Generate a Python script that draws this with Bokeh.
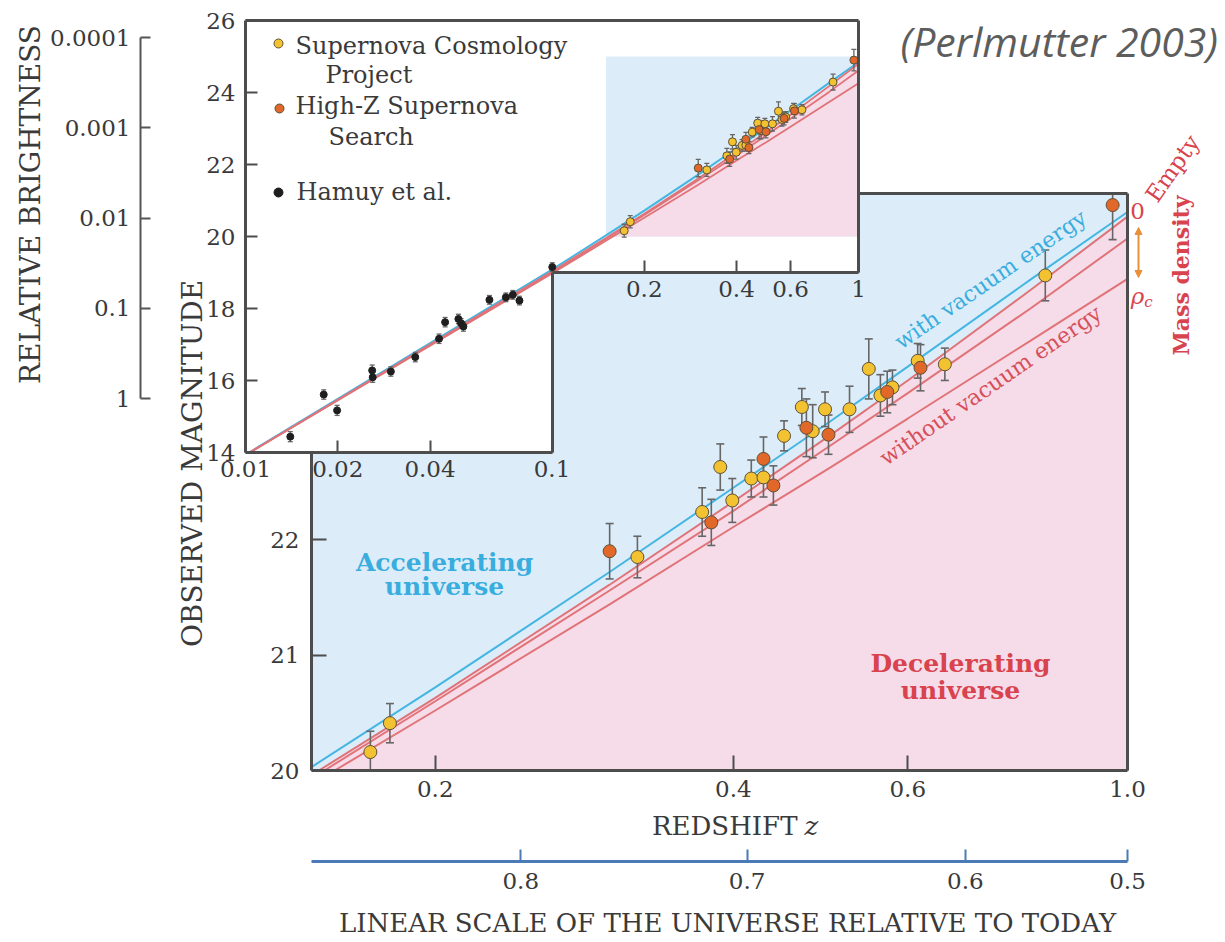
import numpy as np
from math import log10, radians
from bokeh.plotting import figure
from bokeh.models import (Range1d, LogScale, LinearScale, LinearAxis, LogAxis,
                          FixedTicker, Label, Arrow, NormalHead)
from bokeh.embed import file_html
from bokeh.resources import INLINE

# ------------------------------------------------------------------ data
# model curves: observed magnitude vs redshift
curve_z = [0.01, 0.1, 0.15, 0.2, 0.3, 0.4, 0.5, 0.6, 0.8, 1.0]
m_vacuum = [13.94, 19.08, 20.03, 20.72, 21.72, 22.45, 23.02, 23.50, 24.26, 24.84]
m_empty = [13.93, 19.03, 19.96, 20.63, 21.61, 22.33, 22.90, 23.38, 24.17, 24.80]
m_open = [13.93, 19.01, 19.93, 20.60, 21.56, 22.25, 22.81, 23.27, 24.01, 24.61]
m_crit = [13.93, 18.97, 19.88, 20.52, 21.44, 22.11, 22.62, 23.05, 23.73, 24.26]

# Supernova Cosmology Project
scp_z = [0.172, 0.180, 0.320, 0.372, 0.388, 0.399, 0.417, 0.429, 0.450, 0.469,
         0.481, 0.495, 0.524, 0.548, 0.563, 0.579, 0.614, 0.654, 0.826]
scp_m = [20.16, 20.41, 21.85, 22.24, 22.63, 22.34, 22.53, 22.54, 22.90, 23.15,
         22.94, 23.13, 23.13, 23.48, 23.25, 23.32, 23.55, 23.52, 24.29]
scp_err = [0.18, 0.17, 0.18, 0.21, 0.20, 0.19, 0.16, 0.17, 0.13, 0.16,
           0.23, 0.15, 0.20, 0.26, 0.18, 0.15, 0.15, 0.14, 0.22]

# High-Z Supernova Search
hz_z = [0.300, 0.380, 0.429, 0.439, 0.474, 0.499, 0.572, 0.618, 0.966]
hz_m = [21.90, 22.15, 22.70, 22.47, 22.97, 22.91, 23.28, 23.49, 24.90]
hz_err = [0.24, 0.20, 0.19, 0.17, 0.25, 0.17, 0.18, 0.20, 0.30]

# Hamuy et al. (nearby supernovae)
hamuy_z = [0.0140, 0.0180, 0.0199, 0.0259, 0.0260, 0.0298, 0.0358, 0.0428, 0.0448,
           0.0495, 0.0505, 0.0514, 0.0625, 0.0707, 0.0745, 0.0783, 0.1002]
hamuy_m = [14.44, 15.61, 15.17, 16.28, 16.09, 16.25, 16.65, 17.16, 17.62,
           17.71, 17.59, 17.50, 18.24, 18.31, 18.38, 18.22, 19.15]
hamuy_err = [0.14, 0.13, 0.14, 0.15, 0.14, 0.13, 0.13, 0.13, 0.13,
             0.13, 0.13, 0.13, 0.12, 0.12, 0.12, 0.12, 0.12]

# ticks
main_z_ticks = [0.2, 0.4, 0.6, 1.0]
main_z_labels = ["0.2", "0.4", "0.6", "1.0"]
main_m_ticks = [20, 21, 22]
inset_z_ticks_low = [0.01, 0.02, 0.04, 0.1]
inset_z_labels_low = ["0.01", "0.02", "0.04", "0.1"]
inset_z_ticks_high = [0.2, 0.4, 0.6, 1.0]
inset_z_labels_high = ["0.2", "0.4", "0.6", "1"]
inset_m_ticks = [14, 16, 18, 20, 22, 24, 26]
bright_ticks = [0.0001, 0.001, 0.01, 0.1, 1]
bright_labels = ["0.0001", "0.001", "0.01", "0.1", "1"]
scale_tick_z = [0.244, 0.413, 0.686, 1.0]
scale_labels = ["0.8", "0.7", "0.6", "0.5"]

# extents of the panels (data units)
MAIN_Z = (0.15, 1.0)
MAIN_M = (20.0, 25.0)
INSET_Z = (0.01, 1.0)
INSET_M = (14.0, 26.0)
INSET_STEP = (0.1, 19.0)
BRIGHT = (1.0, 0.0001)

# ------------------------------------------------------------------ layout (canvas px)
W, H = 1217, 936
MAIN_PX_X = (311, 1127)
MAIN_PX_Y = (770, 193)
INSET_PX_X = (245, 858)
INSET_PX_Y = (452, 20)
BRIGHT_PX_Y = (398, 37)
BRIGHT_AXIS_X = 140
SCALE_AXIS_Y = 861

SERIF = "DejaVu Serif"
TEXT = "#3a3a3a"
FRAME = "#4d4d4d"
BLUE_FILL = "#dcedf9"
PINK_FILL = "#f6dce9"
BLUE_LINE = "#45b5e2"
RED_LINE = "#e07378"
RED_TEXT = "#d8434d"
CYAN_TEXT = "#3aaddf"
YELLOW = "#f2c230"
ORANGE = "#e2682a"
EDGE = "#5e5038"
ERR = "#666666"


def lin_at(p, p01, v01):
    return v01[0] + (p - p01[0]) * (v01[1] - v01[0]) / (p01[1] - p01[0])


def log_at(p, p01, v01):
    return 10 ** lin_at(p, p01, (log10(v01[0]), log10(v01[1])))


def x_range(p01, v01, log=False):
    f = log_at if log else lin_at
    return Range1d(start=f(0, p01, v01), end=f(W, p01, v01))


def y_range(p01, v01, log=False):
    f = log_at if log else lin_at
    return Range1d(start=f(H, p01, v01), end=f(0, p01, v01))


def clip(zs, ms, zlim, mlim):
    """Clip a polyline (log z, m) to a box."""
    lx = np.log10(zs)
    ms = np.asarray(ms, float)
    xl, xh = log10(zlim[0]), log10(zlim[1])
    out = []
    for i in range(len(lx) - 1):
        xa, ya, xb, yb = lx[i], ms[i], lx[i + 1], ms[i + 1]
        dx, dy = xb - xa, yb - ya
        t0, t1, ok = 0.0, 1.0, True
        for pp, qq in ((-dx, xa - xl), (dx, xh - xa), (-dy, ya - mlim[0]), (dy, mlim[1] - ya)):
            if pp == 0:
                if qq < 0:
                    ok = False
                    break
            else:
                r = qq / pp
                if pp < 0:
                    t0 = max(t0, r)
                else:
                    t1 = min(t1, r)
        if not ok or t0 > t1:
            continue
        a = (xa + t0 * dx, ya + t0 * dy)
        b = (xa + t1 * dx, ya + t1 * dy)
        if not out or abs(out[-1][0] - a[0]) > 1e-12:
            out.append(a)
        out.append(b)
    arr = np.array(out)
    return list(10 ** arr[:, 0]), list(arr[:, 1])


p = figure(width=W, height=H, x_axis_type="log",
           x_range=x_range(MAIN_PX_X, MAIN_Z, log=True),
           y_range=y_range(MAIN_PX_Y, MAIN_M),
           x_axis_location=None, y_axis_location=None,
           toolbar_location=None, output_backend="svg",
           min_border=0, outline_line_color=None)
p.min_border_left = p.min_border_right = p.min_border_top = p.min_border_bottom = 0
p.background_fill_color = "white"
p.border_fill_color = "white"
p.grid.visible = False

p.extra_x_ranges = {"inset": x_range(INSET_PX_X, INSET_Z, log=True),
                    "px": Range1d(0, W)}
p.extra_x_scales = {"inset": LogScale(), "px": LinearScale()}
p.extra_y_ranges = {"inset": y_range(INSET_PX_Y, INSET_M),
                    "bright": y_range(BRIGHT_PX_Y, BRIGHT, log=True),
                    "px": Range1d(H, 0)}
p.extra_y_scales = {"inset": LinearScale(), "bright": LogScale(), "px": LinearScale()}

INS = dict(x_range_name="inset", y_range_name="inset")


def errbars(z, m, e, mlim, cap, lw, **kw):
    m = np.asarray(m, float)
    e = np.asarray(e, float)
    lo = np.clip(m - e, mlim[0], mlim[1])
    hi = np.clip(m + e, mlim[0], mlim[1])
    p.segment(x0=z, y0=lo, x1=z, y1=hi, line_color=ERR, line_width=lw, **kw)
    p.scatter(x=list(z) + list(z), y=list(lo) + list(hi), marker="dash", size=cap,
              line_color=ERR, line_width=lw, **kw)


# ------------------------------------------------------------------ main panel
p.quad(left=MAIN_Z[0], right=MAIN_Z[1], bottom=MAIN_M[0], top=MAIN_M[1],
       fill_color=BLUE_FILL, line_color=None)
pz, pm = clip(curve_z, m_empty, MAIN_Z, MAIN_M)
p.varea(x=pz, y1=[MAIN_M[0]] * len(pz), y2=pm, fill_color=PINK_FILL)
for mm in (m_crit, m_open, m_empty):
    cz, cm = clip(curve_z, mm, MAIN_Z, MAIN_M)
    p.line(cz, cm, line_color=RED_LINE, line_width=2)
cz, cm = clip(curve_z, m_vacuum, MAIN_Z, MAIN_M)
p.line(cz, cm, line_color=BLUE_LINE, line_width=2)

errbars(scp_z, scp_m, scp_err, MAIN_M, 8, 1.6)
errbars(hz_z, hz_m, hz_err, MAIN_M, 8, 1.6)
p.scatter(scp_z, scp_m, size=13, fill_color=YELLOW, line_color=EDGE, line_width=1)
p.scatter(hz_z, hz_m, size=13, fill_color=ORANGE, line_color=EDGE, line_width=1)

# ------------------------------------------------------------------ inset panel
p.patch(x=[INSET_Z[0], INSET_Z[1], INSET_Z[1], INSET_STEP[0], INSET_STEP[0], INSET_Z[0]],
        y=[INSET_M[1], INSET_M[1], INSET_STEP[1], INSET_STEP[1], INSET_M[0], INSET_M[0]],
        fill_color="white", line_color=None, **INS)
p.quad(left=MAIN_Z[0], right=MAIN_Z[1], bottom=MAIN_M[0], top=MAIN_M[1],
       fill_color=BLUE_FILL, line_color=None, **INS)
p.varea(x=pz, y1=[MAIN_M[0]] * len(pz), y2=pm, fill_color=PINK_FILL, **INS)
cz, cm = clip(curve_z, m_vacuum, INSET_Z, INSET_M)
p.line(cz, cm, line_color=BLUE_LINE, line_width=2, **INS)
for mm in (m_crit, m_open, m_empty):
    cz, cm = clip(curve_z, mm, INSET_Z, INSET_M)
    p.line(cz, cm, line_color=RED_LINE, line_width=1.8, **INS)

errbars(hamuy_z, hamuy_m, hamuy_err, INSET_M, 5, 1.3, **INS)
errbars(scp_z, scp_m, scp_err, INSET_M, 5, 1.3, **INS)
errbars(hz_z, hz_m, hz_err, INSET_M, 5, 1.3, **INS)
p.scatter(hamuy_z, hamuy_m, size=7, fill_color="#1e1e1e", line_color="#1e1e1e", **INS)
p.scatter(scp_z, scp_m, size=8, fill_color=YELLOW, line_color=EDGE, line_width=1, **INS)
p.scatter(hz_z, hz_m, size=8, fill_color=ORANGE, line_color=EDGE, line_width=1, **INS)

# legend (inside inset)
PX = dict(x_range_name="px", y_range_name="px")
p.scatter(x=[278, 279, 278], y=[43, 108, 192], size=9,
          fill_color=[YELLOW, ORANGE, "#1e1e1e"], line_color=[EDGE, EDGE, "#1e1e1e"],
          line_width=1, **PX)


def label(text, x, y, size, color=TEXT, bold=False, italic=False, angle=0.0,
          align="center", baseline="middle", font=SERIF):
    style = "bold" if bold else ("italic" if italic else "normal")
    p.add_layout(Label(x=x, y=y, text=text, text_font=font, text_font_size=size,
                       text_color=color, text_font_style=style, angle=angle,
                       text_align=align, text_baseline=baseline, **PX))


label("Supernova Cosmology", 295, 45, "24px", align="left")
label("Project", 325, 74, "24px", align="left")
label("High-Z Supernova", 295, 105, "24px", align="left")
label("Search", 328, 136, "24px", align="left")
label("Hamuy et al.", 296, 191, "24px", align="left")


# ------------------------------------------------------------------ axes
def add_axis(kind, side, fixed, bounds, ticks=(), labels=None, xr="default", yr="default",
             tick_in=0, standoff=10, color=FRAME, width=3, size="23px"):
    cls = LogAxis if kind == "log" else LinearAxis
    ax = cls(fixed_location=fixed, bounds=bounds, x_range_name=xr, y_range_name=yr,
             ticker=FixedTicker(ticks=list(ticks), minor_ticks=[]))
    ax.axis_line_color = color
    ax.axis_line_width = width
    ax.major_tick_in = tick_in
    ax.major_tick_out = 0
    ax.major_tick_line_width = 2
    ax.major_tick_line_color = color if len(ticks) else None
    ax.minor_tick_line_color = None
    ax.major_label_standoff = standoff
    ax.major_label_text_font = SERIF
    ax.major_label_text_font_size = size
    ax.major_label_text_color = TEXT
    if labels:
        ax.major_label_overrides = {t: l for t, l in zip(ticks, labels)}
    p.add_layout(ax, side)
    return ax


m_at_inset_bottom = lin_at(INSET_PX_Y[0], MAIN_PX_Y, MAIN_M)
z_at_inset_right = log_at(INSET_PX_X[1], MAIN_PX_X, MAIN_Z)

# main frame
add_axis("lin", "left", MAIN_Z[0], (MAIN_M[0], m_at_inset_bottom), main_m_ticks,
         [str(t) for t in main_m_ticks], tick_in=15, standoff=12)
add_axis("log", "below", MAIN_M[0], MAIN_Z, main_z_ticks, main_z_labels,
         tick_in=15, standoff=10)
add_axis("lin", "right", MAIN_Z[1], MAIN_M)
add_axis("log", "above", MAIN_M[1], (z_at_inset_right, MAIN_Z[1]))

# inset frame
add_axis("lin", "left", INSET_Z[0], INSET_M, inset_m_ticks,
         [str(t) for t in inset_m_ticks], xr="inset", yr="inset", tick_in=12, standoff=10)
add_axis("log", "below", INSET_M[0], (INSET_Z[0], INSET_STEP[0]), inset_z_ticks_low,
         inset_z_labels_low, xr="inset", yr="inset", tick_in=12, standoff=8)
add_axis("log", "below", INSET_STEP[1], (INSET_STEP[0], INSET_Z[1]), inset_z_ticks_high,
         inset_z_labels_high, xr="inset", yr="inset", tick_in=12, standoff=8)
add_axis("lin", "right", INSET_STEP[0], (INSET_M[0], INSET_STEP[1]), xr="inset", yr="inset")
add_axis("log", "above", INSET_M[1], INSET_Z, xr="inset", yr="inset")
add_axis("lin", "right", INSET_Z[1], (INSET_STEP[1], INSET_M[1]), xr="inset", yr="inset")

# relative brightness
add_axis("log", "left", BRIGHT_AXIS_X, (BRIGHT[1], BRIGHT[0]), bright_ticks, bright_labels,
         xr="px", yr="bright", tick_in=10, standoff=10, color="#555555", width=2)

# linear scale of the universe
add_axis("log", "below", SCALE_AXIS_Y, MAIN_Z, scale_tick_z, scale_labels,
         yr="px", tick_in=12, standoff=11, color="#4a7bb7", width=3)

# ------------------------------------------------------------------ texts
label("RELATIVE BRIGHTNESS", 30, 204, "28px", angle=radians(90))
label("OBSERVED MAGNITUDE", 192, 463, "28px", angle=radians(90))
label("REDSHIFT", 797, 825, "26px", align="right")
label("z", 804, 825, "26px", italic=True, align="left")
label("LINEAR SCALE OF THE UNIVERSE RELATIVE TO TODAY", 727, 922, "26px")

label("Accelerating", 444, 562, "25px", color=CYAN_TEXT, bold=True, baseline="alphabetic")
label("universe", 444, 586, "25px", color=CYAN_TEXT, bold=True, baseline="alphabetic")
label("Decelerating", 960, 663, "25px", color=RED_TEXT, bold=True, baseline="alphabetic")
label("universe", 960, 690, "25px", color=RED_TEXT, bold=True, baseline="alphabetic")

label("with vacuum energy", 990, 279, "22px", color=CYAN_TEXT, angle=radians(34.5))
label("without vacuum energy", 990, 385, "22px", color="#d6505a", angle=radians(34.5))

label("0", 1137, 210, "23px", color=RED_TEXT)
label("Empty", 1172, 168, "23px", color=RED_TEXT, angle=radians(55))
label("\u03c1", 1137, 295, "23px", color=RED_TEXT, italic=True)
label("c", 1148, 301, "15px", color=RED_TEXT, italic=True)
label("Mass density", 1180, 275, "22px", color=RED_TEXT, bold=True, angle=radians(90))
p.add_layout(Arrow(x_start=1138, y_start=227, x_end=1138, y_end=277,
                   line_color="#e8913a", line_width=2,
                   start=NormalHead(size=7, fill_color="#e8913a", line_color="#e8913a"),
                   end=NormalHead(size=7, fill_color="#e8913a", line_color="#e8913a"),
                   **PX))

label("(Perlmutter 2003)", 900, 40, "41px", color="#5d5d5d", italic=True,
      align="left", font="Open Sans")

open("out.html", "w").write(file_html(p, INLINE))
